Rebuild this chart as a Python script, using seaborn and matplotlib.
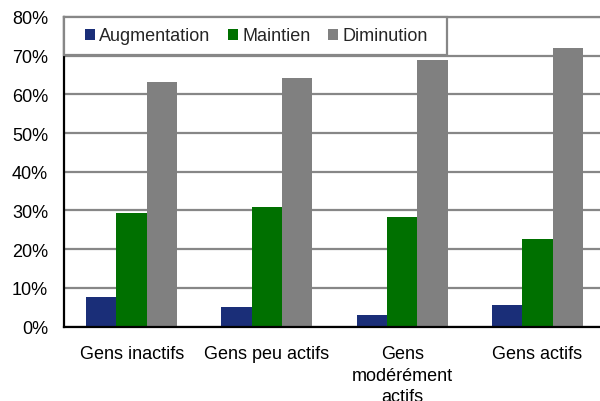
import matplotlib
matplotlib.use("Agg")
import matplotlib.pyplot as plt
from matplotlib.patches import Rectangle
from matplotlib.ticker import FuncFormatter
import pandas as pd
import seaborn as sns

# ── Data (values in %) ─────────────────────────────────────────────────────
categories = ["Gens inactifs", "Gens peu actifs", "Gens\nmodérément\nactifs", "Gens actifs"]
series = ["Augmentation", "Maintien", "Diminution"]
augmentation = [7.6, 5.0, 3.0, 5.6]
maintien = [29.3, 30.9, 28.3, 22.6]
diminution = [63.2, 64.2, 68.9, 72.0]
y_ticks = [0, 10, 20, 30, 40, 50, 60, 70, 80]

colors = ["#1A2E78", "#007000", "#808080"]
grid_gray = "#878787"

df = pd.DataFrame({
    "groupe": categories * 3,
    "serie": [s for s in series for _ in categories],
    "valeur": augmentation + maintien + diminution,
})

sns.set_style("white")
plt.rcParams["font.family"] = ["Liberation Sans", "DejaVu Sans"]

fig = plt.figure(figsize=(6, 4.02), dpi=100)
ax = fig.add_axes([64 / 600, 1 - 327.5 / 402, 541 / 600, 309.5 / 402])

sns.barplot(data=df, x="groupe", y="valeur", hue="serie", order=categories,
            hue_order=series, palette=colors, saturation=1, width=0.672,
            linewidth=0, ax=ax, legend=False)

ax.set_ylim(0, 80)
ax.set_yticks(y_ticks)
ax.yaxis.set_major_formatter(FuncFormatter(lambda v, _: f"{v:.0f}%"))
ax.set_xlabel("")
ax.set_ylabel("")
ax.tick_params(axis="both", length=0, labelsize=13, colors="black")
ax.tick_params(axis="x", pad=13.5)
ax.tick_params(axis="y", pad=11.5)
for lbl in ax.get_xticklabels():
    lbl.set_linespacing(1.35)

ax.set_axisbelow(True)
ax.yaxis.grid(True, color=grid_gray, linewidth=1.6)
for side in ["left", "bottom"]:
    ax.spines[side].set_color("black")
    ax.spines[side].set_linewidth(1.6)
ax.spines["top"].set_color(grid_gray)
ax.spines["top"].set_linewidth(1.6)
ax.spines["right"].set_visible(False)

# ── Legend (Excel-style box in the top-left corner) ────────────────────────
frame = Rectangle((0, (327.5 - 56) / 309.5), (447 - 64) / 541, (56 - 18) / 309.5,
                  transform=ax.transAxes, facecolor="white", edgecolor=grid_gray,
                  linewidth=1.6, zorder=4, clip_on=False)
ax.add_patch(frame)
handles = [Rectangle((0, 0), 1, 1, facecolor=c, edgecolor="none") for c in colors]
ax.legend(handles, series, loc="center left",
          bbox_to_anchor=((85 - 64) / 541, (327.5 - 37) / 309.5),
          ncol=3, frameon=False, fontsize=13, borderpad=0, borderaxespad=0,
          handlelength=0.55, handleheight=0.55, handletextpad=0.22,
          columnspacing=1.0)

fig.savefig("out.png", dpi=100)
plt.close(fig)
